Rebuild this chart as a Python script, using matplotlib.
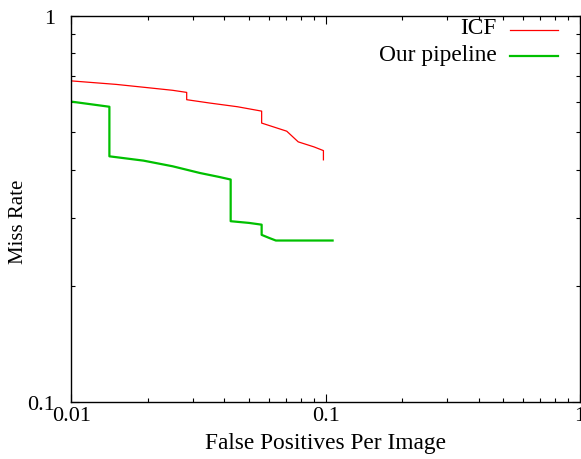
import matplotlib
matplotlib.use("Agg")
import matplotlib.pyplot as plt
from matplotlib.lines import Line2D
from matplotlib.ticker import LogLocator, NullFormatter, FixedLocator, FixedFormatter

plt.rcParams['font.family'] = ['Liberation Serif', 'DejaVu Serif']

# ICF curve
icf_fppi = [0.0100, 0.0150, 0.0200, 0.0250, 0.0284, 0.0284, 0.0350, 0.0450, 0.0560, 0.0560,
            0.0703, 0.0780, 0.0900, 0.0980, 0.0980]
icf_mr = [0.679, 0.665, 0.652, 0.642, 0.634, 0.607, 0.595, 0.582, 0.567, 0.528,
          0.503, 0.472, 0.458, 0.448, 0.424]

# Our pipeline curve
our_fppi = [0.0100, 0.0141, 0.0141, 0.0192, 0.0250, 0.0320, 0.0380, 0.0423, 0.0423, 0.0500,
            0.0560, 0.0560, 0.0600, 0.0637, 0.1065]
our_mr = [0.600, 0.582, 0.433, 0.422, 0.408, 0.392, 0.383, 0.377, 0.294, 0.291,
          0.288, 0.271, 0.266, 0.262, 0.262]

series_names = ["ICF", "Our pipeline"]
series_colors = ["#ff0000", "#00c000"]
series_widths = [0.9, 1.6]

x_ticks = [0.01, 0.1, 1]
x_labels = ["0.01", "0.1", "1"]
y_ticks = [0.1, 1]
y_labels = ["0.1", "1"]

fig = plt.figure(figsize=(5.81, 4.60), dpi=100)
ax = fig.add_axes([0.123, 0.124, 0.875, 0.839])

ax.plot(icf_fppi, icf_mr, color=series_colors[0], lw=series_widths[0])
ax.plot(our_fppi, our_mr, color=series_colors[1], lw=series_widths[1])

ax.set_xscale("log")
ax.set_yscale("log")
ax.set_xlim(0.01, 1)
ax.set_ylim(0.1, 1)

ax.xaxis.set_major_locator(FixedLocator(x_ticks))
ax.xaxis.set_major_formatter(FixedFormatter(x_labels))
ax.yaxis.set_major_locator(FixedLocator(y_ticks))
ax.yaxis.set_major_formatter(FixedFormatter(y_labels))
ax.xaxis.set_minor_locator(LogLocator(base=10, subs=range(2, 10)))
ax.yaxis.set_minor_locator(LogLocator(base=10, subs=range(2, 10)))
ax.xaxis.set_minor_formatter(NullFormatter())
ax.yaxis.set_minor_formatter(NullFormatter())

ax.tick_params(which="both", direction="in", top=True, right=True, labelsize=16, width=0.8)
ax.tick_params(which="major", length=6)
ax.tick_params(axis="x", which="major", pad=3)
ax.tick_params(axis="y", which="major", pad=12)
ax.tick_params(which="minor", length=3)
for s in ax.spines.values():
    s.set_linewidth(1.0)

ax.set_xlabel("False Positives Per Image", fontsize=16.8, labelpad=5)
ax.set_ylabel("Miss Rate", fontsize=15)
ax.yaxis.set_label_coords(-0.085, 0.47)

# gnuplot-style key: right-aligned text, sample line on its right
key_text_y = [0.969, 0.901]
key_line_y = [0.964, 0.896]
for name, col, lw, ty, ly in zip(series_names, series_colors, series_widths, key_text_y, key_line_y):
    ax.text(0.837, ty, name, transform=ax.transAxes, ha="right", va="center", fontsize=16.8)
    ax.add_line(Line2D([0.862, 0.957], [ly, ly], transform=ax.transAxes, color=col, lw=lw))

fig.savefig("out.png", dpi=100)
